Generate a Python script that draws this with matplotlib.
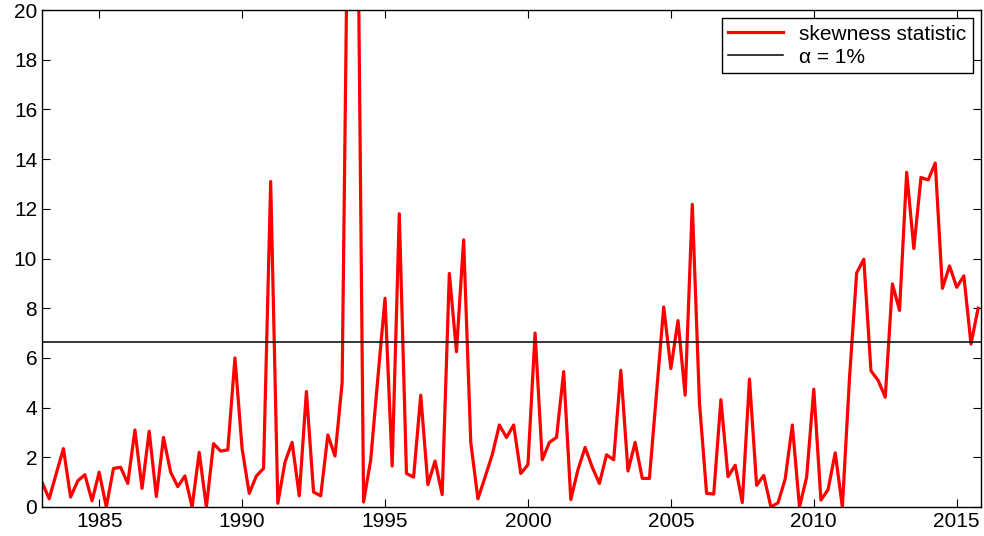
import matplotlib
matplotlib.use('Agg')
import matplotlib.pyplot as plt
import numpy as np

plt.rcParams['font.family'] = ['Liberation Sans', 'DejaVu Sans']

start_year = 1983.0
skew = [1.0, 0.33, 1.35, 2.35, 0.4, 1.05, 1.3, 0.25,
        1.4, 0.0, 1.55, 1.6, 0.95, 3.1, 0.75, 3.05,
        0.42, 2.8, 1.4, 0.82, 1.25, 0.0, 2.2, 0.0,
        2.55, 2.25, 2.3, 6.0, 2.35, 0.55, 1.25, 1.55,
        13.1, 0.15, 1.8, 2.6, 0.45, 4.65, 0.6, 0.45,
        2.9, 2.05, 5.0, 30.0, 30.0,
        0.2, 1.9, 5.2, 8.4, 1.65, 11.8, 1.35, 1.2, 4.5, 0.9,
        1.85, 0.5, 9.4, 6.25, 10.75, 2.6, 0.33, 1.2, 2.1, 3.3,
        2.8, 3.3, 1.35, 1.7, 7.0, 1.9, 2.6, 2.8, 5.45, 0.3,
        1.5, 2.4, 1.6, 0.95, 2.1, 1.9, 5.5, 1.45, 2.6, 1.15, 1.15,
        4.6,
        8.05, 5.57, 7.5, 4.5, 12.18, 4.2, 0.55, 0.52,
        4.32, 1.22, 1.68, 0.18, 5.15, 0.87, 1.27, 0.0,
        0.17, 1.13, 3.3, 0.0, 1.2, 4.74, 0.28, 0.7,
        2.18, 0.0, 5.2, 9.42, 9.97, 5.48, 5.1, 4.42,
        8.98, 7.91, 13.47, 10.4, 13.26, 13.16, 13.84, 8.8,
        9.7, 8.84, 9.3, 6.56, 8.0]
crit = 6.63

t = start_year + np.arange(len(skew)) / 4.0

fig = plt.figure(figsize=(9.84, 5.36), dpi=100)
ax = fig.add_axes([42/984, 29/536, 939/984, 497/536])

ax.plot(t, skew, color='#ff0000', lw=2.3, label='skewness statistic')
ax.axhline(crit, color='k', lw=1.1, label='α = 1%')

ax.set_xlim(1983.0, 2015.85)
ax.set_ylim(0, 20)
ax.set_yticks(np.arange(0, 21, 2))
ax.set_xticks([1985, 1990, 1995, 2000, 2005, 2010, 2015])
ax.tick_params(direction='in', top=True, right=True, labelsize=15, length=6)
for s in ax.spines.values():
    s.set_linewidth(1.0)

leg = ax.legend(loc='upper right', fontsize=15, fancybox=False, edgecolor='k',
                framealpha=1, borderaxespad=0.4, handlelength=2.6,
                borderpad=0.3, labelspacing=0.2)
leg.get_frame().set_linewidth(1.0)

fig.savefig('out.png', dpi=100)
